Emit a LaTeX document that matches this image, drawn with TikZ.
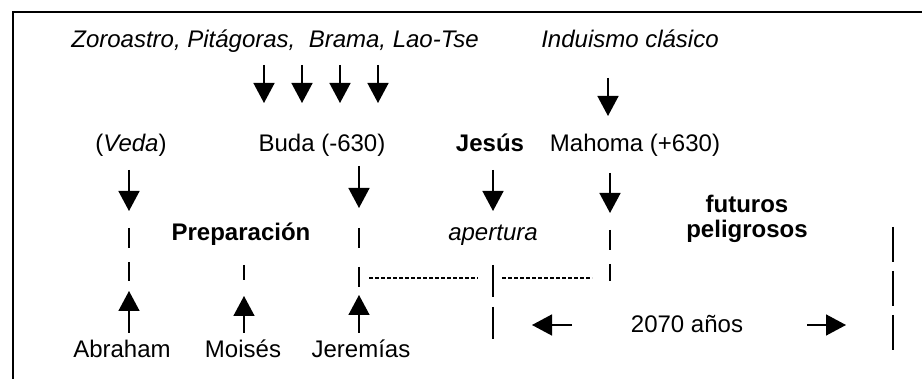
\documentclass[tikz,border=0pt]{standalone}
\usepackage{fontspec}
\setmainfont{Liberation Sans}
\usetikzlibrary{arrows.meta}

\begin{document}
\begin{tikzpicture}[x=0.5pt,y=-0.5pt,
  lbl/.style={inner sep=0pt,anchor=base,font=\fontsize{12}{12.5}\selectfont},
  arr/.style={-{Triangle[width=10.5pt,length=10pt]},line width=0.75pt},
  gap/.style={line width=0.7pt,dash pattern=on 10pt off 7pt},
  fine/.style={line width=0.55pt,dash pattern=on 2pt off 1pt}
]
  \useasboundingbox (0,0) rectangle (922,379);
  \draw[line width=0.7pt] (13,379) -- (13,12) -- (922,12);

  % top row
  \node[lbl] (zoro) at (275,48) {\itshape Zoroastro, Pit\'agoras,\ \ Brama, Lao-Tse};
  \node[lbl] (indu) at (630,48) {\itshape Induismo cl\'asico};
  % founders
  \node[lbl] (veda) at (131,152) {(\textit{Veda})};
  \node[lbl] (buda) at (322,152) {Buda (-630)};
  \node[lbl] (jesus) at (490,152) {\bfseries Jes\'us};
  \node[lbl] (mahoma) at (635,152) {Mahoma (+630)};
  % periods
  \node[lbl] (prep) at (241,241) {\bfseries Preparaci\'on};
  \node[lbl] (apert) at (493,241) {\itshape apertura};
  \node[lbl,align=center] (fut) at (747,238) {\bfseries futuros\\\bfseries peligrosos};
  \node[lbl] (anos) at (687,333) {2070 a\~nos};
  % prophets
  \node[lbl] (abraham) at (122,358) {Abraham};
  \node[lbl] (moises) at (243,358) {Mois\'es};
  \node[lbl] (jeremias) at (361,358) {Jerem\'ias};

  % arrows down into Buda and Mahoma
  \foreach \x [count=\i] in {264,302,340,378} {
    \coordinate (z\i) at (\x,65);
    \coordinate (b\i) at (\x,103);
    \draw[arr] (z\i) -- (b\i);
  }
  \coordinate (i1) at (608,78);
  \coordinate (i2) at (608,116);
  \draw[arr] (i1) -- (i2);

  % arrows down from the founders
  \foreach \n/\x/\t/\b in {v/129/170/211,u/359/166/208,j/493/170/211,m/610/173/213} {
    \coordinate (\n1) at (\x,\t);
    \coordinate (\n2) at (\x,\b);
    \draw[arr] (\n1) -- (\n2);
  }

  % broken lines
  \draw[gap] (129,228) coordinate (v3) -- (129,281) coordinate (v4);
  \draw[gap] (244,265) coordinate (o3) -- (244,280) coordinate (o4);
  \draw[gap,dash pattern=on 10pt off 9.5pt] (359,228) coordinate (u3) -- (359,287) coordinate (u4);
  \draw[gap] (610,230) coordinate (m3) -- (610,281) coordinate (m4);
  \draw[gap,dash pattern=on 16pt off 5pt] (493,265) coordinate (j3) -- (493,342) coordinate (j4);
  \draw[gap,dash pattern=on 17.5pt off 4.5pt] (893,227) coordinate (r1) -- (893,352) coordinate (r2);
  \draw[fine] (369,278) coordinate (h1) -- (478,278) coordinate (h2);
  \draw[fine] (502,278) coordinate (h3) -- (592,278) coordinate (h4);

  % arrows up from the prophets
  \foreach \n/\x/\t in {a/129/291,o/244/296,e/359/295} {
    \coordinate (\n1) at (\x,333);
    \coordinate (\n2) at (\x,\t);
    \draw[arr] (\n1) -- (\n2);
  }

  % span of 2070 years
  \coordinate (s1) at (572,325);
  \coordinate (s2) at (532,325);
  \coordinate (s3) at (807,325);
  \coordinate (s4) at (846,325);
  \draw[arr] (s1) -- (s2);
  \draw[arr] (s3) -- (s4);
\end{tikzpicture}
\end{document}
